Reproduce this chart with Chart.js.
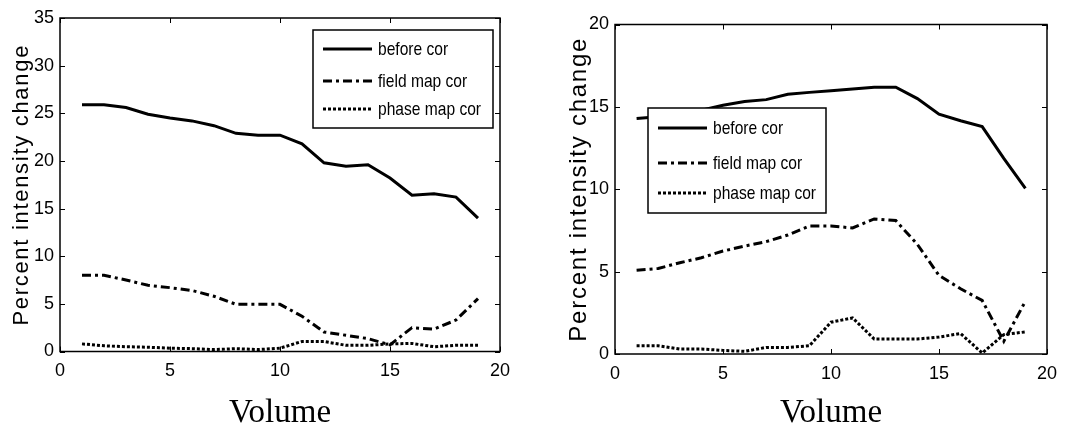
<!DOCTYPE html>
<html>
<head>
<meta charset="utf-8">
<script src="https://cdn.jsdelivr.net/npm/chart.js@4.4.0/dist/chart.umd.min.js"></script>
<style>
  html, body { margin: 0; padding: 0; background: #fff; }
  .wrap { position: absolute; top: 0; width: 533px; height: 426px; }
</style>
</head>
<body>
<div class="wrap" style="left:0"><canvas id="left" width="533" height="426"></canvas></div>
<div class="wrap" style="left:533px"><canvas id="right" width="533" height="426"></canvas></div>
<script>
// data
const volumes = [1, 2, 3, 4, 5, 6, 7, 8, 9, 10, 11, 12, 13, 14, 15, 16, 17, 18, 19];
const seriesLabels = ['before cor', 'field map cor', 'phase map cor'];

const leftBefore = [25.9, 25.9, 25.6, 24.9, 24.5, 24.2, 23.7, 22.9, 22.7, 22.7, 21.8, 19.8, 19.45, 19.6, 18.2, 16.4, 16.55, 16.2, 14.0];
const leftField  = [8.0, 8.0, 7.5, 6.95, 6.7, 6.4, 5.8, 4.95, 4.95, 4.95, 3.7, 2.05, 1.7, 1.35, 0.7, 2.5, 2.35, 3.3, 5.55];
const leftPhase  = [0.8, 0.6, 0.5, 0.45, 0.35, 0.3, 0.2, 0.3, 0.2, 0.35, 1.05, 1.05, 0.65, 0.65, 0.8, 0.85, 0.5, 0.65, 0.65];

const rightBefore = [14.3, 14.4, 14.6, 14.8, 15.1, 15.33, 15.44, 15.76, 15.88, 15.98, 16.08, 16.19, 16.19, 15.5, 14.56, 14.16, 13.8, 11.87, 10.06];
const rightField  = [5.09, 5.19, 5.54, 5.84, 6.25, 6.55, 6.82, 7.22, 7.77, 7.77, 7.65, 8.2, 8.1, 6.65, 4.77, 3.96, 3.25, 0.77, 3.2];
const rightPhase  = [0.5, 0.5, 0.3, 0.3, 0.22, 0.16, 0.4, 0.4, 0.5, 1.93, 2.19, 0.91, 0.91, 0.91, 1.03, 1.24, 0.06, 1.18, 1.34];

const xTicks = [0, 5, 10, 15, 20];
const leftYTicks = [0, 5, 10, 15, 20, 25, 30, 35];
const rightYTicks = [0, 5, 10, 15, 20];
const xTitle = 'Volume';
const yTitle = 'Percent intensity change';

const sans = "'Liberation Sans', Arial, sans-serif";
const lineStyles = [
  { borderDash: [] },
  { borderDash: [9, 4, 3, 4] },
  { borderDash: [3, 2] }
];

function makeDatasets(values) {
  return values.map((v, i) => ({
    label: seriesLabels[i],
    data: v.map((y, k) => ({ x: volumes[k], y: y })),
    borderColor: '#000',
    borderWidth: 3,
    borderDash: lineStyles[i].borderDash,
    borderCapStyle: 'butt',
    pointRadius: 0,
    tension: 0,
    fill: false
  }));
}

// box round the axes with inward ticks on all four sides
const boxPlugin = {
  id: 'box',
  afterDatasetsDraw(chart) {
    const { ctx, chartArea: a, scales } = chart;
    ctx.save();
    ctx.strokeStyle = '#000';
    ctx.lineWidth = 1.5;
    ctx.strokeRect(a.left, a.top, a.right - a.left, a.bottom - a.top);
    ctx.lineWidth = 1;
    ctx.beginPath();
    scales.x.ticks.forEach(t => {
      const px = Math.round(scales.x.getPixelForValue(t.value)) + 0.5;
      ctx.moveTo(px, a.bottom); ctx.lineTo(px, a.bottom - 5);
      ctx.moveTo(px, a.top); ctx.lineTo(px, a.top + 5);
    });
    scales.y.ticks.forEach(t => {
      const py = Math.round(scales.y.getPixelForValue(t.value)) + 0.5;
      ctx.moveTo(a.left, py); ctx.lineTo(a.left + 5, py);
      ctx.moveTo(a.right, py); ctx.lineTo(a.right - 5, py);
    });
    ctx.stroke();
    ctx.restore();
  }
};

// boxed legend and letter-spaced y title, like the original figure
const extrasPlugin = {
  id: 'extras',
  afterDraw(chart, args, opts) {
    const { ctx, chartArea: a } = chart;
    const lg = opts.legend;
    ctx.save();
    ctx.fillStyle = '#fff';
    ctx.fillRect(lg.x, lg.y, lg.w, lg.h);
    ctx.strokeStyle = '#000';
    ctx.lineWidth = 1.5;
    ctx.strokeRect(lg.x, lg.y, lg.w, lg.h);
    chart.data.datasets.forEach((ds, i) => {
      const y = lg.y + lg.rows[i];
      ctx.beginPath();
      ctx.setLineDash(ds.borderDash);
      ctx.lineWidth = ds.borderWidth;
      ctx.moveTo(lg.x + 10, y);
      ctx.lineTo(lg.x + 59, y);
      ctx.stroke();
      ctx.setLineDash([]);
      // squeeze the text a little, the figure uses a narrow face
      ctx.save();
      ctx.translate(lg.x + 65, y);
      ctx.scale(0.82, 1);
      ctx.font = '19px ' + sans;
      ctx.textBaseline = 'middle';
      ctx.fillStyle = '#000';
      ctx.fillText(ds.label, 0, 1);
      ctx.restore();
    });

    ctx.translate(opts.titleX, (a.top + a.bottom) / 2);
    ctx.rotate(-Math.PI / 2);
    ctx.font = opts.titleSize + 'px ' + sans;
    ctx.letterSpacing = opts.spacing + 'px';
    ctx.textAlign = 'center';
    ctx.textBaseline = 'middle';
    ctx.fillStyle = '#000';
    ctx.fillText(yTitle, 0, 0);
    ctx.restore();
  }
};

function makeChart(id, values, yTicks, yMax, cfg) {
  return new Chart(document.getElementById(id), {
    type: 'line',
    data: { datasets: makeDatasets(values) },
    plugins: [boxPlugin, extrasPlugin],
    options: {
      responsive: false,
      animation: false,
      devicePixelRatio: 1,
      layout: { padding: { top: cfg.top, right: cfg.right, left: 0, bottom: 0 } },
      plugins: {
        legend: { display: false },
        tooltip: { enabled: false },
        extras: cfg.extras
      },
      scales: {
        x: {
          type: 'linear',
          min: 0,
          max: 20,
          afterBuildTicks: s => { s.ticks = xTicks.map(v => ({ value: v })); },
          afterFit: s => { s.height = cfg.xHeight; },
          grid: { display: false, drawTicks: false },
          border: { display: false },
          ticks: { color: '#000', padding: 9, maxRotation: 0, font: { family: sans, size: 18 } },
          title: {
            display: true,
            text: xTitle,
            color: '#000',
            padding: { top: 0, bottom: -4 },
            font: { family: "'Liberation Serif', 'Times New Roman', serif", size: 33, lineHeight: 1 }
          }
        },
        y: {
          min: 0,
          max: yMax,
          afterBuildTicks: s => { s.ticks = yTicks.map(v => ({ value: v })); },
          afterFit: s => { s.width = cfg.yWidth; },
          grid: { display: false, drawTicks: false },
          border: { display: false },
          ticks: { color: '#000', padding: 6, font: { family: sans, size: 18 } }
        }
      }
    }
  });
}

makeChart('left', [leftBefore, leftField, leftPhase], leftYTicks, 35, {
  top: 18, right: 33, xHeight: 74.5, yWidth: 60,
  extras: {
    legend: { x: 313, y: 30, w: 180, h: 98, rows: [19, 51, 79] },
    titleX: 22, titleSize: 22, spacing: 1.7
  }
});

makeChart('right', [rightBefore, rightField, rightPhase], rightYTicks, 20, {
  top: 24.5, right: 14, xHeight: 72, yWidth: 82,
  extras: {
    legend: { x: 115, y: 108, w: 178, h: 105, rows: [20, 55, 85] },
    titleX: 46, titleSize: 24, spacing: 1.75
  }
});
</script>
</body>
</html>
